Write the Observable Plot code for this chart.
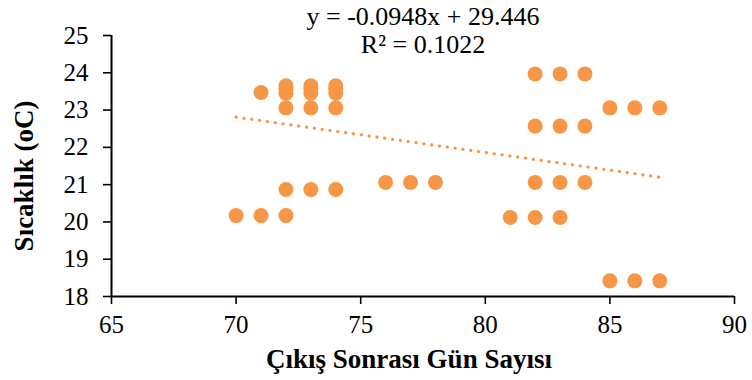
<!DOCTYPE html>
<html>
<head>
<meta charset="utf-8">
<script src="https://cdn.jsdelivr.net/npm/d3@7"></script>
<script src="https://cdn.jsdelivr.net/npm/@observablehq/plot@0.6"></script>
<style>
  body { margin: 0; background: #fff; }
  #chart svg { display: block; }
</style>
</head>
<body>
<div id="chart"></div>
<script>
// Days after emergence and measured temperature for each observation
const days = [
  70, 71, 72,
  72, 73, 74,
  76, 77, 78,
  81, 82, 83,
  82, 83, 84,
  82, 83, 84,
  82, 83, 84,
  85, 86, 87,
  85, 86, 87,
  71,
  72, 73, 74,
  72, 73, 74,
  72, 73, 74,
  72, 73, 74
];
const temps = [
  20.17, 20.17, 20.17,
  20.87, 20.87, 20.87,
  21.06, 21.06, 21.06,
  20.12, 20.12, 20.12,
  21.06, 21.06, 21.06,
  22.57, 22.57, 22.57,
  23.97, 23.97, 23.97,
  23.06, 23.06, 23.06,
  18.42, 18.42, 18.42,
  23.47,
  23.06, 23.06, 23.06,
  23.45, 23.45, 23.45,
  23.55, 23.55, 23.55,
  23.65, 23.65, 23.65
];

// Linear trend reported with the chart
const slope = -0.0948;
const intercept = 29.446;
const rSquared = 0.1022;
const trendRange = [70, 87];

const xTicks = [65, 70, 75, 80, 85, 90];
const yTicks = [18, 19, 20, 21, 22, 23, 24, 25];

const points = days.map((d, i) => ({day: d, temp: temps[i]}));
const trend = trendRange.map(d => ({day: d, temp: slope * d + intercept}));

const orange = "#F79646";

const chart = Plot.plot({
  width: 752,
  height: 380,
  marginLeft: 111,
  marginRight: 18,
  marginTop: 35,
  marginBottom: 84,
  style: {fontFamily: "'Liberation Serif', 'Times New Roman', serif", fontSize: "24px", color: "#000", background: "#fff"},
  x: {domain: [65, 90]},
  y: {domain: [18, 25]},
  marks: [
    Plot.axisX({ticks: xTicks, tickSize: 8, tickPadding: 11, fontSize: 25, label: null, stroke: "#000", strokeWidth: 1.6}),
    Plot.axisY({ticks: yTicks, tickFormat: d3.format("d"), tickSize: 8, tickPadding: 15, fontSize: 25, label: null, stroke: "#000", strokeWidth: 1.6}),
    Plot.ruleX([65], {stroke: "#000", strokeWidth: 2}),
    Plot.ruleY([18], {stroke: "#000", strokeWidth: 2}),
    Plot.line(trend, {x: "day", y: "temp", stroke: orange, strokeWidth: 3.2, strokeDasharray: "0.1 7.8", strokeLinecap: "round"}),
    Plot.dot(points, {x: "day", y: "temp", r: 7.5, fill: orange, stroke: "none"}),
    Plot.text([`y = ${slope}x + ${intercept}`], {frameAnchor: "top", lineAnchor: "middle", dy: -18.5, fontSize: 26, fill: "#000"}),
    Plot.text([`R² = ${rSquared}`], {frameAnchor: "top", lineAnchor: "middle", dy: 9, fontSize: 26, fill: "#000"}),
    Plot.text(["Çıkış Sonrası Gün Sayısı"], {frameAnchor: "bottom", lineAnchor: "middle", dx: -14, dy: 62.5, fontSize: 27, fontWeight: "bold", fill: "#000"}),
    Plot.text(["Sıcaklık (oC)"], {frameAnchor: "left", textAnchor: "middle", lineAnchor: "middle", dx: -87, dy: 10, rotate: -90, fontSize: 27, fontWeight: "bold", fill: "#000"})
  ]
});

document.getElementById("chart").append(chart);
</script>
</body>
</html>
